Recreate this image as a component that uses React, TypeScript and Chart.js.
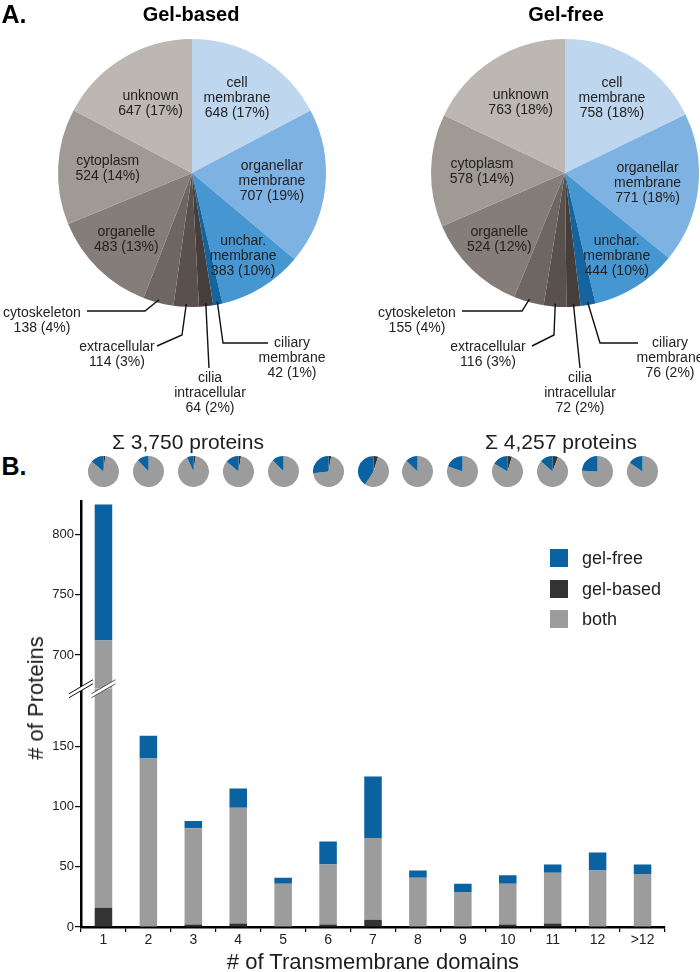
import React, { useEffect, useRef } from 'react';
import { Chart, registerables } from 'chart.js';

Chart.register(...registerables);

const FONT = '"Liberation Sans", Arial, Helvetica, sans-serif';

// ---------- Panel A data ----------
const LOCATIONS = [
  'cell\nmembrane',
  'organellar\nmembrane',
  'unchar.\nmembrane',
  'ciliary\nmembrane',
  'cilia\nintracellular',
  'extracellular',
  'cytoskeleton',
  'organelle',
  'cytoplasm',
  'unknown',
];
const GEL_BASED_COUNTS = [648, 707, 383, 42, 64, 114, 138, 483, 524, 647];
const GEL_FREE_COUNTS = [758, 771, 444, 76, 72, 116, 155, 524, 578, 763];
const LOCATION_COLORS = [
  '#bed7ee', '#7eb2e2', '#4696d2', '#14649f', '#463e3c',
  '#5a514e', '#6e6663', '#857d79', '#a09a95', '#bcb7b2',
];
const PIE_TITLES = ['Gel-based', 'Gel-free'];

// ---------- Panel B data ----------
const TM_DOMAINS = ['1', '2', '3', '4', '5', '6', '7', '8', '9', '10', '11', '12', '>12'];
const TM_GEL_BASED = [16, 0, 2, 3, 0, 2, 6, 0, 0, 2, 3, 0, 0];
const TM_BOTH = [696, 140, 80, 96, 36, 50, 68, 41, 29, 34, 42, 47, 44];
const TM_GEL_FREE = [113, 19, 6, 16, 5, 19, 51, 6, 7, 7, 7, 15, 8];
const SERIES_NAMES = ['gel-free', 'gel-based', 'both'];
const SERIES_COLORS = ['#0b62a0', '#333333', '#9c9c9c'];
const LOWER_RANGE = [0, 198];
const UPPER_RANGE = [672, 828];
const Y_STEP = 50;

// ---------- label layout (relative to pie centre) ----------
type Spec = { r?: number; path?: [number, number][]; tx?: number; ty?: number };
const LINE_H = 15;
const GB_LAYOUT: Spec[] = [
  { r: 0.65 }, { r: 0.6 }, { r: 0.73 },
  { path: [[31, 170], [76, 170]], tx: 100, ty: 170 },
  { path: [[17, 195]], tx: 18, ty: 205 },
  { path: [[-10, 162], [-35, 173]], tx: -75, ty: 174 },
  { path: [[-47, 138], [-105, 138]], tx: -150, ty: 140 },
  { r: 0.7 }, { r: 0.63 }, { r: 0.6 },
];
const GF_LAYOUT: Spec[] = [
  { r: 0.66 }, { r: 0.62 }, { r: 0.73 },
  { path: [[35, 170], [73, 170]], tx: 105, ty: 170 },
  { path: [[15, 195]], tx: 15, ty: 205 },
  { path: [[-11, 162], [-33, 173]], tx: -77, ty: 174 },
  { path: [[-43, 138], [-103, 138]], tx: -148, ty: 140 },
  { r: 0.7 }, { r: 0.62 }, { r: 0.62 },
];

function makePie(canvas: HTMLCanvasElement, counts: number[], layout: Spec[], padding: any) {
  const total = counts.reduce((a, b) => a + b, 0);
  const labelPlugin = {
    id: 'sliceLabels',
    afterDatasetsDraw(chart: any) {
      const ctx = chart.ctx as CanvasRenderingContext2D;
      const arcs = chart.getDatasetMeta(0).data;
      ctx.save();
      ctx.font = `14px ${FONT}`;
      ctx.fillStyle = '#222';
      ctx.strokeStyle = '#111';
      ctx.lineWidth = 1.4;
      ctx.textAlign = 'center';
      ctx.textBaseline = 'middle';
      arcs.forEach((arc: any, i: number) => {
        const p = arc.getProps(['x', 'y', 'startAngle', 'endAngle', 'outerRadius'], true);
        const mid = (p.startAngle + p.endAngle) / 2;
        const lines = [
          ...LOCATIONS[i].split('\n'),
          `${counts[i]} (${Math.round((counts[i] / total) * 100)}%)`,
        ];
        const spec = layout[i];
        if (spec.path) {
          ctx.beginPath();
          ctx.moveTo(p.x + Math.cos(mid) * (p.outerRadius - 3), p.y + Math.sin(mid) * (p.outerRadius - 3));
          spec.path.forEach(([dx, dy]) => ctx.lineTo(p.x + dx, p.y + dy));
          ctx.stroke();
          lines.forEach((t, k) => ctx.fillText(t, p.x + (spec.tx || 0), p.y + (spec.ty || 0) + k * LINE_H));
        } else {
          const r = p.outerRadius * (spec.r || 0.6);
          const cx = p.x + Math.cos(mid) * r;
          const cy = p.y + Math.sin(mid) * r;
          lines.forEach((t, k) => ctx.fillText(t, cx, cy + (k - (lines.length - 1) / 2) * LINE_H));
        }
      });
      ctx.restore();
    },
  };
  return new Chart(canvas, {
    type: 'pie',
    data: {
      labels: LOCATIONS.map((l) => l.replace('\n', ' ')),
      datasets: [{ data: counts, backgroundColor: LOCATION_COLORS, borderWidth: 0, hoverOffset: 0 } as any],
    },
    options: {
      responsive: false,
      animation: false,
      events: [],
      layout: { padding },
      plugins: { legend: { display: false }, tooltip: { enabled: false } },
    },
    plugins: [labelPlugin],
  });
}

const clipToAxis = {
  id: 'clipToAxis',
  beforeDatasetDraw(chart: any, args: any) {
    const ys = chart.scales[args.meta.yAxisID];
    const ctx = chart.ctx;
    ctx.save();
    ctx.beginPath();
    ctx.rect(chart.chartArea.left, ys.top, chart.chartArea.right - chart.chartArea.left, ys.bottom - ys.top);
    ctx.clip();
  },
  afterDatasetDraw(chart: any) {
    chart.ctx.restore();
  },
};

const axisBreak = {
  id: 'axisBreak',
  afterDraw(chart: any) {
    const ctx = chart.ctx as CanvasRenderingContext2D;
    const yb = chart.scales.y.top;
    const xs = chart.scales.x;
    const hw = 12, rise = 7, gap = 4;
    const draw = (cx: number, col: string) => {
      ctx.save();
      ctx.fillStyle = '#ffffff';
      ctx.beginPath();
      ctx.moveTo(cx - hw, yb + rise + gap / 2);
      ctx.lineTo(cx + hw, yb - rise + gap / 2);
      ctx.lineTo(cx + hw, yb - rise - gap / 2);
      ctx.lineTo(cx - hw, yb + rise - gap / 2);
      ctx.closePath();
      ctx.fill();
      ctx.strokeStyle = col;
      ctx.lineWidth = 1;
      [gap / 2, -gap / 2].forEach((o) => {
        ctx.beginPath();
        ctx.moveTo(cx - hw, yb + rise + o);
        ctx.lineTo(cx + hw, yb - rise + o);
        ctx.stroke();
      });
      ctx.restore();
    };
    draw(chart.chartArea.left, '#111');
    draw(xs.getPixelForValue(0), '#555');
  },
};

function stepTicks(s: any) {
  const t: any[] = [];
  for (let v = Math.ceil(s.min / Y_STEP) * Y_STEP; v <= s.max; v += Y_STEP) t.push({ value: v });
  s.ticks = t;
}

function makeBar(canvas: HTMLCanvasElement) {
  const seriesData = [TM_GEL_BASED, TM_BOTH, TM_GEL_FREE];
  const seriesIdx = [1, 2, 0];
  const datasets: any[] = [];
  ['y', 'yTop'].forEach((axis) => {
    seriesData.forEach((d, k) => {
      datasets.push({
        label: SERIES_NAMES[seriesIdx[k]],
        data: d,
        backgroundColor: SERIES_COLORS[seriesIdx[k]],
        yAxisID: axis,
        stack: 'tm',
        borderWidth: 0,
        grouped: false,
        barPercentage: 0.39,
        categoryPercentage: 1,
      });
    });
  });
  const tickFont = { family: FONT, size: 13 };
  const yCommon = {
    type: 'linear',
    position: 'left',
    stack: 'left',
    stacked: true,
    border: { color: '#000', width: 2.5 },
    grid: { drawOnChartArea: false, drawTicks: true, tickLength: 6, color: '#000', lineWidth: 1.2 },
    ticks: { color: '#222', font: tickFont, padding: 1 },
    afterBuildTicks: stepTicks,
    afterFit: (s: any) => { s.width = 81; },
  };
  return new Chart(canvas, {
    type: 'bar',
    data: { labels: TM_DOMAINS, datasets },
    options: {
      responsive: false,
      animation: false,
      events: [],
      layout: { padding: { top: 11, right: 35, left: 0, bottom: 0 } },
      plugins: { legend: { display: false }, tooltip: { enabled: false } },
      scales: {
        x: {
          stacked: true,
          border: { color: '#000', width: 2.5 },
          grid: { drawOnChartArea: false, drawTicks: true, tickLength: 5, color: '#000', lineWidth: 1.2, offset: true },
          ticks: { color: '#222', font: { family: FONT, size: 14 }, padding: 0, maxRotation: 0 },
          afterFit: (s: any) => { s.height = 45; },
        },
        y: {
          ...yCommon,
          min: LOWER_RANGE[0],
          max: LOWER_RANGE[1],
          stackWeight: LOWER_RANGE[1] - LOWER_RANGE[0],
        },
        yTop: {
          ...yCommon,
          min: UPPER_RANGE[0],
          max: UPPER_RANGE[1],
          stackWeight: UPPER_RANGE[1] - UPPER_RANGE[0],
        },
      } as any,
    },
    plugins: [clipToAxis, axisBreak],
  });
}

function makeMini(canvas: HTMLCanvasElement, i: number) {
  return new Chart(canvas, {
    type: 'pie',
    data: {
      labels: ['gel-based', 'both', 'gel-free'],
      datasets: [{
        data: [TM_GEL_BASED[i], TM_BOTH[i], TM_GEL_FREE[i]],
        backgroundColor: [SERIES_COLORS[1], SERIES_COLORS[2], SERIES_COLORS[0]],
        borderWidth: 0,
        hoverOffset: 0,
      } as any],
    },
    options: {
      responsive: false,
      animation: false,
      events: [],
      plugins: { legend: { display: false }, tooltip: { enabled: false } },
    },
  });
}

const MINI = 31;

function Txt(props: { x: number; y: number; size: number; bold?: boolean; children: any; rotate?: boolean }) {
  return (
    <div
      style={{
        position: 'absolute',
        left: props.x,
        top: props.y,
        transform: `translate(-50%, -50%)${props.rotate ? ' rotate(-90deg)' : ''}`,
        fontFamily: FONT,
        fontSize: props.size,
        fontWeight: props.bold ? 700 : 400,
        lineHeight: 1,
        whiteSpace: 'nowrap',
        color: props.bold ? '#000' : '#1e1e1e',
      }}
    >
      {props.children}
    </div>
  );
}

export default function App() {
  const gbRef = useRef<HTMLCanvasElement>(null);
  const gfRef = useRef<HTMLCanvasElement>(null);
  const barRef = useRef<HTMLCanvasElement>(null);
  const miniRefs = useRef<(HTMLCanvasElement | null)[]>([]);

  useEffect(() => {
    const charts: Chart[] = [];
    charts.push(makePie(gbRef.current!, GEL_BASED_COUNTS, GB_LAYOUT, { left: 58, right: 24, top: 39, bottom: 133 }));
    charts.push(makePie(gfRef.current!, GEL_FREE_COUNTS, GF_LAYOUT, { left: 81, right: 1, top: 39, bottom: 133 }));
    const bar = makeBar(barRef.current!);
    charts.push(bar);
    TM_DOMAINS.forEach((_, i) => {
      const cv = miniRefs.current[i];
      if (!cv) return;
      const px = bar.scales.x.getPixelForValue(i);
      cv.style.left = `${px - MINI / 2}px`;
      charts.push(makeMini(cv, i));
    });
    return () => charts.forEach((c) => c.destroy());
  }, []);

  const totals = [GEL_BASED_COUNTS, GEL_FREE_COUNTS].map((a) => a.reduce((s, v) => s + v, 0));
  const legendOrder = [0, 1, 2];

  return (
    <div style={{ position: 'absolute', left: 0, top: 0, width: 700, height: 972, background: '#fff', overflow: 'hidden' }}>
      <canvas ref={gbRef} width={350} height={440} style={{ position: 'absolute', left: 0, top: 0 }} />
      <canvas ref={gfRef} width={350} height={440} style={{ position: 'absolute', left: 350, top: 0 }} />
      <canvas ref={barRef} width={700} height={482} style={{ position: 'absolute', left: 0, top: 490 }} />
      {TM_DOMAINS.map((d, i) => (
        <canvas
          key={d}
          ref={(el) => { miniRefs.current[i] = el; }}
          width={MINI}
          height={MINI}
          style={{ position: 'absolute', left: 0, top: 456 }}
        />
      ))}
      <Txt x={14} y={14} size={25} bold>A.</Txt>
      <Txt x={191} y={14} size={20} bold>{PIE_TITLES[0]}</Txt>
      <Txt x={566} y={14} size={20} bold>{PIE_TITLES[1]}</Txt>
      <Txt x={188} y={441} size={21}>{`Σ ${totals[0].toLocaleString('en-US')} proteins`}</Txt>
      <Txt x={561} y={441} size={21}>{`Σ ${totals[1].toLocaleString('en-US')} proteins`}</Txt>
      <Txt x={14} y={466} size={25} bold>B.</Txt>
      <Txt x={36} y={698} size={22} rotate># of Proteins</Txt>
      <Txt x={373} y={962} size={22}># of Transmembrane domains</Txt>
      {legendOrder.map((k, j) => (
        <React.Fragment key={k}>
          <div style={{ position: 'absolute', left: 550, top: 549 + j * 30.5, width: 18, height: 18, background: SERIES_COLORS[k] }} />
          <div style={{ position: 'absolute', left: 582, top: 558 + j * 30.5, transform: 'translateY(-50%)', fontFamily: FONT, fontSize: 18, lineHeight: 1, color: '#1e1e1e', whiteSpace: 'nowrap' }}>
            {SERIES_NAMES[k]}
          </div>
        </React.Fragment>
      ))}
    </div>
  );
}
